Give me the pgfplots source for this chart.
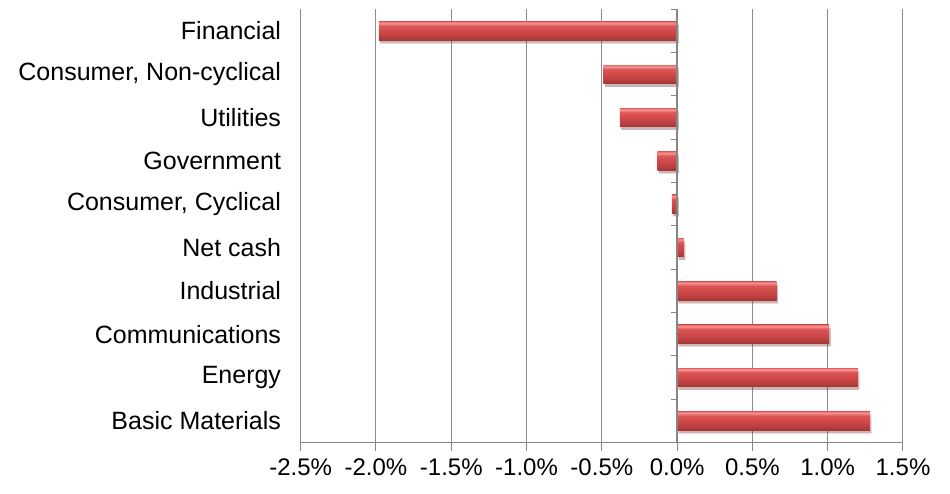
\documentclass[border=0pt]{standalone}
\usepackage{pgfplots}
\pgfplotsset{compat=1.18}
\usepackage{fontspec}
\setmainfont{Liberation Sans}
\usetikzlibrary{shadows}
\definecolor{gridgray}{HTML}{8C8C8C}
\definecolor{axgray}{HTML}{868686}
\definecolor{bdark}{HTML}{A33636}
\definecolor{bmid1}{HTML}{C04242}
\definecolor{bmid2}{HTML}{D24B4B}
\definecolor{bmid3}{HTML}{DE5656}
\definecolor{blight}{HTML}{F28C8C}
\definecolor{btop}{HTML}{E66A6A}
\pgfdeclareverticalshading{barshade}{100bp}{color(0bp)=(bdark); color(25bp)=(bdark); color(38bp)=(bmid1); color(52bp)=(bmid2); color(64bp)=(bmid3); color(70bp)=(blight); color(73bp)=(blight); color(75bp)=(btop); color(100bp)=(btop)}
\pgfplotsset{redbar/.style={draw=none, shading=barshade, drop shadow={fill=black, opacity=0.18, shadow xshift=1.5pt, shadow yshift=-3pt}}}
\begin{document}
\begin{tikzpicture}[font=\fontsize{24}{28}\selectfont]
\begin{axis}[
  scale only axis, width=602.3pt, height=433.2pt,
  xmin=-2.5, xmax=1.5, ymin=-0.5, ymax=9.5,
  xtick={-2.5,-2,-1.5,-1,-0.5,0,0.5,1,1.5},
  xticklabels={-2.5\%,-2.0\%,-1.5\%,-1.0\%,-0.5\%,0.0\%,0.5\%,1.0\%,1.5\%},
  ytick={0,1,2,3,4,5,6,7,8,9},
  yticklabels={Basic Materials, Energy, Communications, Industrial, Net cash, {Consumer, Cyclical}, Government, Utilities, {Consumer, Non-cyclical}, Financial},
  axis line style={draw=none},
  xtick pos=bottom,
  tick align=outside, major tick length=8pt,
  xtick style={axgray, line width=1pt},
  ytick style={draw=none},
  xmajorgrids, grid style={gridgray, line width=1pt},
  yticklabel style={inner sep=0pt, xshift=-11.5pt, font=\fontsize{25}{29}\selectfont},
  xticklabel style={inner sep=0pt, yshift=-8pt},
  xbar, bar width=18.5pt, bar shift=0pt,
  clip=false,
]
\coordinate (SW) at (rel axis cs:0,0);
\coordinate (NE) at (rel axis cs:1,1);
\addplot[redbar] coordinates {(1.28,0)};
\addplot[redbar] coordinates {(1.20,1)};
\addplot[redbar] coordinates {(1.01,2)};
\addplot[redbar] coordinates {(0.66,3)};
\addplot[redbar] coordinates {(0.045,4)};
\addplot[redbar] coordinates {(-0.035,5)};
\addplot[redbar] coordinates {(-0.13,6)};
\addplot[redbar] coordinates {(-0.38,7)};
\addplot[redbar] coordinates {(-0.49,8)};
\addplot[redbar] coordinates {(-1.98,9)};
\draw[axgray, line width=1.3pt] (rel axis cs:0,0) -- (rel axis cs:1,0);
\draw[axgray, line width=1.3pt] (axis cs:0,-0.5) -- (axis cs:0,9.5);
\draw[axgray, line width=1pt]
  (axis cs:0,-0.5) -- ++(-6pt,0pt) (axis cs:0,0.5) -- ++(-6pt,0pt)
  (axis cs:0,1.5) -- ++(-6pt,0pt) (axis cs:0,2.5) -- ++(-6pt,0pt)
  (axis cs:0,3.5) -- ++(-6pt,0pt) (axis cs:0,4.5) -- ++(-6pt,0pt)
  (axis cs:0,5.5) -- ++(-6pt,0pt) (axis cs:0,6.5) -- ++(-6pt,0pt)
  (axis cs:0,7.5) -- ++(-6pt,0pt) (axis cs:0,8.5) -- ++(-6pt,0pt)
  (axis cs:0,9.5) -- ++(-6pt,0pt);
\end{axis}
\pgfresetboundingbox
\path ([xshift=-300.7pt,yshift=-50.5pt]SW) rectangle ([xshift=47pt,yshift=9.3pt]NE);
\end{tikzpicture}
\end{document}
